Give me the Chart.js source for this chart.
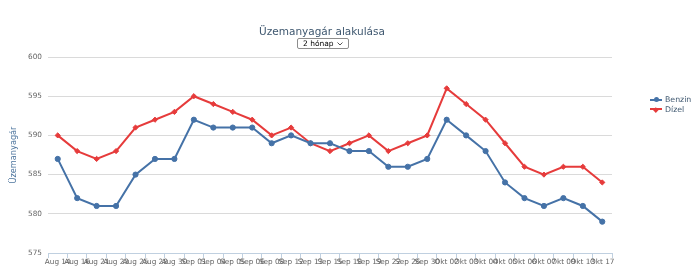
<!DOCTYPE html>
<html lang="hu">
<head>
<meta charset="utf-8">
<title>Üzemanyagár alakulása</title>
<script src="https://cdn.jsdelivr.net/npm/chart.js@4.4.0/dist/chart.umd.min.js"></script>
<style>
    html, body { margin: 0; padding: 0; background: #fff; }
    #contenedor { position: relative; width: 700px; height: 277px; font-family: "DejaVu Sans", sans-serif; }
    #graficoPrecios { position: absolute; left: 0; top: 0; }
    #titulo { position: absolute; left: 172px; width: 300px; top: 25px; text-align: center;
              font-size: 10.5px; line-height: 12px; color: #3e576f; }
    #periodo { position: absolute; left: 297px; top: 38px; width: 52px; height: 11px; box-sizing: border-box;
               font-family: "DejaVu Sans", sans-serif; font-size: 7.5px; color: #000; padding: 0 0 0 5px; margin: 0;
               border: 1px solid #8d8d8d; border-radius: 2px; -webkit-appearance: none; appearance: none;
               background: #fff url("data:image/svg+xml;utf8,<svg xmlns='http://www.w3.org/2000/svg' width='6' height='4'><path d='M0.5 0.5 L3 3 L5.5 0.5' fill='none' stroke='%23555' stroke-width='1'/></svg>") no-repeat right 5px center; }
    #leyenda { position: absolute; left: 650px; top: 95px; }
    .item { height: 9.5px; line-height: 9.5px; font-size: 7.8px; color: #3e576f; white-space: nowrap; }
    .simbolo { display: inline-block; position: relative; width: 12px; height: 2px; vertical-align: middle; margin-right: 3px; }
    .simbolo i { position: absolute; left: 3.5px; top: -2px; width: 5px; height: 5px; border-radius: 50%; }
    .simbolo i.rectRot { border-radius: 0; width: 3.6px; height: 3.6px; left: 4.2px; top: -0.8px; transform: rotate(45deg); }
</style>
</head>
<body>
<div id="contenedor">
    <canvas id="graficoPrecios" width="700" height="277"></canvas>
    <div id="titulo">Üzemanyagár alakulása</div>
    <select id="periodo">
        <option>1 hónap</option>
        <option selected>2 hónap</option>
        <option>6 hónap</option>
    </select>
    <div id="leyenda"></div>
</div>
<script>
// Datos del gráfico
const fechas = [
    "Aug 14", "Aug 16", "Aug 21", "Aug 23", "Aug 25", "Aug 28", "Aug 30",
    "Sep 01", "Sep 04", "Sep 05", "Sep 06", "Sep 08", "Sep 12", "Sep 13", "Sep 15",
    "Sep 18", "Sep 19", "Sep 22", "Sep 26", "Sep 30",
    "Okt 02", "Okt 03", "Okt 04", "Okt 05", "Okt 06", "Okt 07", "Okt 09", "Okt 13", "Okt 17"
];
const benzin = [587, 582, 581, 581, 585, 587, 587, 592, 591, 591, 591, 589, 590, 589, 589,
                588, 588, 586, 586, 587, 592, 590, 588, 584, 582, 581, 582, 581, 579];
const dizel  = [590, 588, 587, 588, 591, 592, 593, 595, 594, 593, 592, 590, 591, 589, 588,
                589, 590, 588, 589, 590, 596, 594, 592, 589, 586, 585, 586, 586, 584];
const marcasY = [575, 580, 585, 590, 595, 600];

const fuente = "'DejaVu Sans', sans-serif";

const ctx = document.getElementById('graficoPrecios').getContext('2d');
const grafico = new Chart(ctx, {
    type: 'line',
    data: {
        labels: fechas,
        datasets: [
            {
                label: 'Benzin',
                data: benzin,
                borderColor: '#4572a7',
                backgroundColor: '#4572a7',
                borderWidth: 2,
                pointStyle: 'circle',
                pointRadius: 2.6,
                pointBorderWidth: 1,
                tension: 0
            },
            {
                label: 'Dízel',
                data: dizel,
                borderColor: '#e63b3b',
                backgroundColor: '#e63b3b',
                borderWidth: 2,
                pointStyle: 'rectRot',
                pointRadius: 2.6,
                pointBorderWidth: 1,
                tension: 0
            }
        ]
    },
    options: {
        responsive: false,
        animation: false,
        layout: { padding: { top: 57, right: 88, bottom: 0, left: 0 } },
        plugins: {
            legend: { display: false },
            tooltip: { enabled: false }
        },
        scales: {
            x: {
                offset: true,
                grid: { drawOnChartArea: false, drawTicks: true, tickLength: 5, color: '#c0d0e0', offset: true },
                border: { color: '#c0d0e0', width: 1 },
                ticks: { autoSkip: false, maxRotation: 0, minRotation: 0, padding: 0, color: '#666',
                         font: { family: fuente, size: 7.3 } },
                afterFit: function (scale) { scale.height = 24; }
            },
            y: {
                min: marcasY[0],
                max: marcasY[marcasY.length - 1],
                ticks: { stepSize: marcasY[1] - marcasY[0], padding: 6, color: '#666',
                         font: { family: fuente, size: 7.3 } },
                grid: { color: '#dadada', drawTicks: false },
                border: { display: false },
                title: { display: true, text: 'Üzemanyagár', color: '#4d759e',
                         font: { family: fuente, size: 8.2 }, padding: { top: 9, bottom: 0 } },
                afterFit: function (scale) { scale.width = 48; }
            }
        }
    }
});

// Leyenda en HTML a partir de los datasets
const leyenda = document.getElementById('leyenda');
grafico.data.datasets.forEach(ds => {
    leyenda.innerHTML += `
        <div class="item"><span class="simbolo" style="background:${ds.borderColor}"><i class="${ds.pointStyle}" style="background:${ds.borderColor}"></i></span>${ds.label}</div>`;
});
</script>
</body>
</html>
